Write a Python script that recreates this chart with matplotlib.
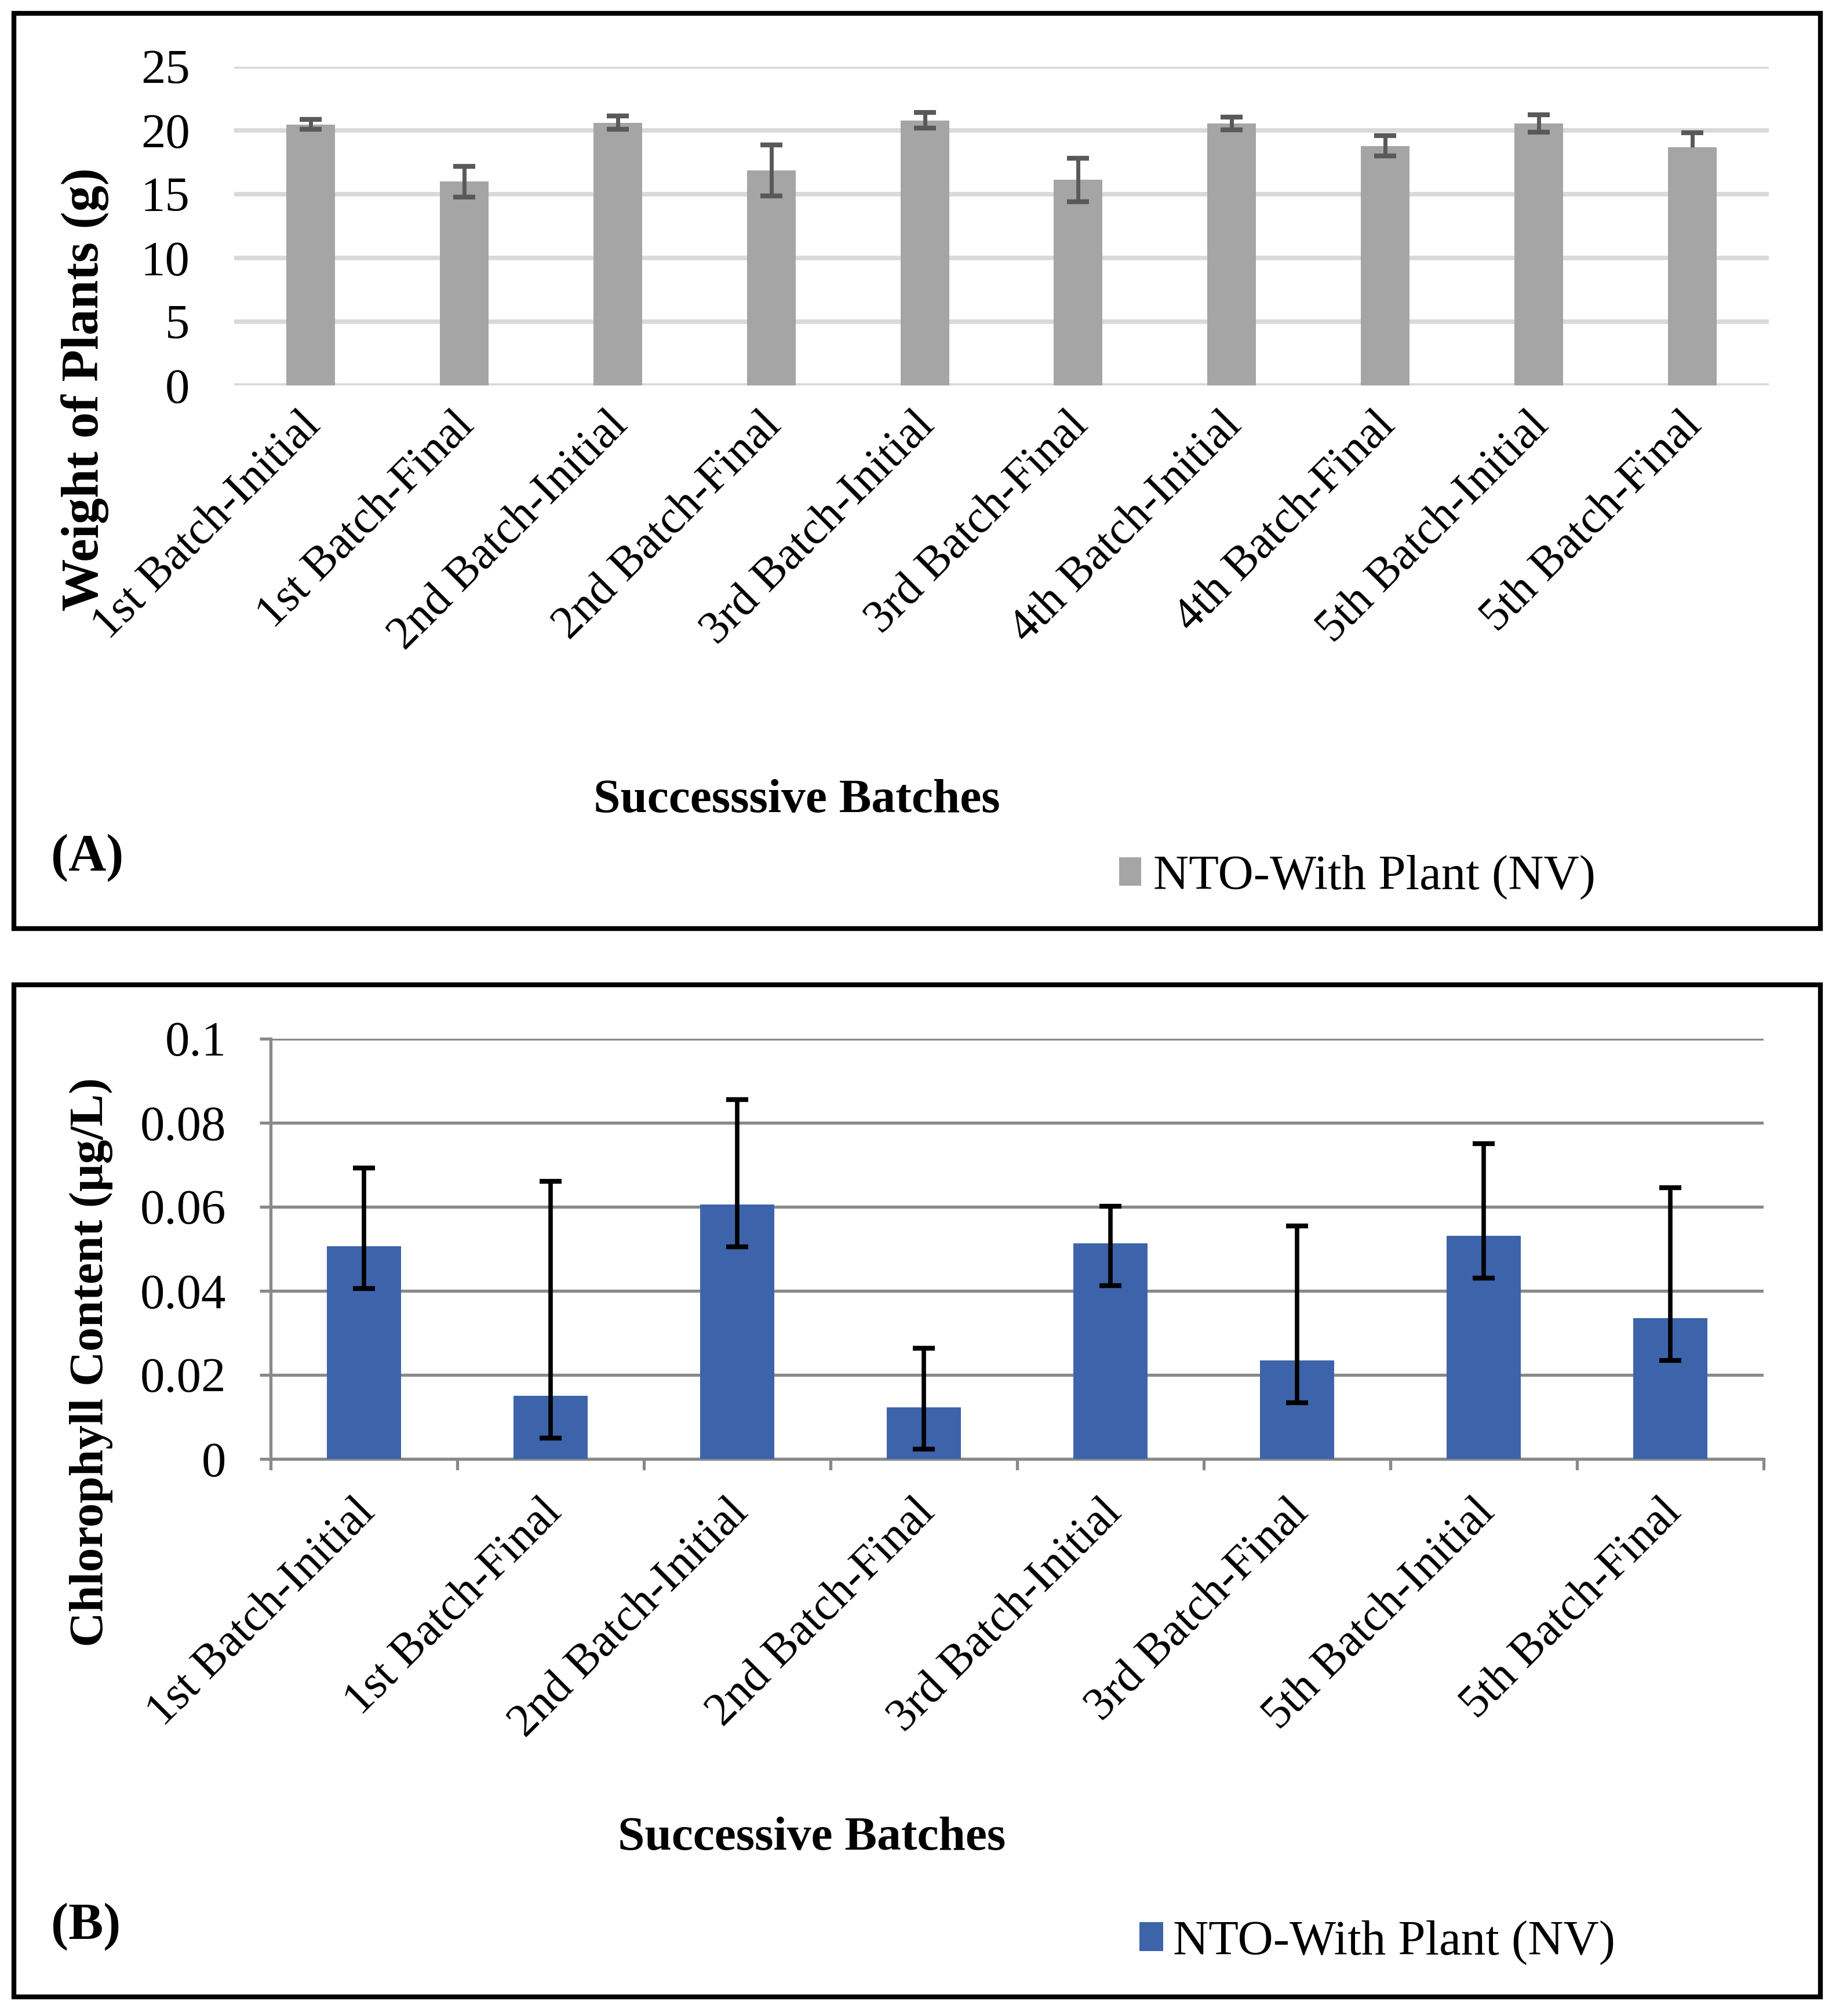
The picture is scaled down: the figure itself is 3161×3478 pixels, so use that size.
import numpy as np
import matplotlib
matplotlib.use("Agg")
import matplotlib.pyplot as plt
from matplotlib.patches import Rectangle
from matplotlib.transforms import ScaledTranslation

plt.rcParams['font.family'] = ['Liberation Serif', 'DejaVu Serif']

# (A) weight of plants
cats_a = ["1st Batch-Initial", "1st Batch-Final", "2nd Batch-Initial", "2nd Batch-Final",
          "3rd Batch-Initial", "3rd Batch-Final", "4th Batch-Initial", "4th Batch-Final",
          "5th Batch-Initial", "5th Batch-Final"]
weight = [20.47, 15.98, 20.61, 16.85, 20.78, 16.12, 20.55, 18.79, 20.55, 18.70]
weight_lo = [0.38, 1.20, 0.52, 2.00, 0.61, 1.70, 0.50, 0.80, 0.70, 0.0]
weight_hi = [0.38, 1.20, 0.52, 2.00, 0.61, 1.70, 0.50, 0.80, 0.70, 1.10]
yticks_a = [0, 5, 10, 15, 20, 25]

# (B) chlorophyll content
cats_b = ["1st Batch-Initial", "1st Batch-Final", "2nd Batch-Initial", "2nd Batch-Final",
          "3rd Batch-Initial", "3rd Batch-Final", "5th Batch-Initial", "5th Batch-Final"]
chl = [0.0506, 0.0150, 0.0605, 0.0123, 0.0513, 0.0234, 0.0531, 0.0335]
chl_lo = [0.0100, 0.0100, 0.0100, 0.0100, 0.0100, 0.0100, 0.0100, 0.0100]
chl_hi = [0.0187, 0.0511, 0.0250, 0.0140, 0.0089, 0.0320, 0.0220, 0.0310]
yticks_b = [0, 0.02, 0.04, 0.06, 0.08, 0.1]
ytick_labels_b = ["0", "0.02", "0.04", "0.06", "0.08", "0.1"]

legend_label = "NTO-With Plant (NV)"

FS = 61      # numbers, legend
FS_CAT = 58  # rotated category labels
W, H = 3161, 3478
fig = plt.figure(figsize=(W / 100, H / 100), dpi=100)


def fx(px):
    return px / W


def fy(py):
    return (H - py) / H


def draw_err(ax, x, y, lo, hi, half, color, lw, clw):
    x = np.asarray(x, float)
    y = np.asarray(y, float)
    lo = np.asarray(lo, float)
    hi = np.asarray(hi, float)
    ax.vlines(x, y - lo, y + hi, color=color, lw=lw, zorder=4)
    ax.hlines(y + hi, x - half, x + half, color=color, lw=clw, zorder=4)
    m = lo > 0
    ax.hlines((y - lo)[m], x[m] - half, x[m] + half, color=color, lw=clw, zorder=4)


def shift_labels(ax, dx_px, dy_px):
    for lab in ax.get_xticklabels():
        lab.set_transform(lab.get_transform() +
                          ScaledTranslation(dx_px / 100, dy_px / 100, fig.dpi_scale_trans))


# frames
for (x0, y0, x1, y1) in [(24, 23, 3141, 1602), (24, 1699, 3141, 3445)]:
    fig.add_artist(Rectangle((fx(x0), fy(y1)), fx(x1) - fx(x0), fy(y0) - fy(y1),
                             transform=fig.transFigure, fill=False, lw=6, ec='black'))

# ---------- panel A ----------
axa = fig.add_axes([fx(404), fy(665), fx(3052) - fx(404), fy(115) - fy(665)])
xa = np.arange(len(cats_a))
bars_a = axa.bar(xa, weight, width=0.317, color='#A5A5A5', zorder=3, label=legend_label)
draw_err(axa, xa, weight, weight_lo, weight_hi, 0.072, '#595959', 5, 6)
axa.set_xlim(-0.5, len(cats_a) - 0.5)
axa.set_ylim(0, 25)
axa.set_yticks(yticks_a)
axa.yaxis.grid(True, color='#D9D9D9', lw=5.5)
axa.set_axisbelow(True)
for s in axa.spines.values():
    s.set_visible(False)
axa.tick_params(axis='y', length=0, pad=55, labelsize=FS)
axa.set_xticks(xa)
axa.set_xticklabels(cats_a, rotation=45, ha='right', va='top', rotation_mode='anchor', fontsize=FS_CAT)
axa.tick_params(axis='x', length=0, pad=23)
shift_labels(axa, -20, 0)

fig.text(fx(146), fy(672), "Weight of Plants (g)", rotation=90, ha='center', va='center',
         fontsize=65, fontweight='bold')
fig.text(fx(1375), fy(1382), "Successsive Batches", ha='center', va='center',
         fontsize=60, fontweight='bold')
fig.text(fx(88), fy(1480), "(A)", ha='left', va='center', fontsize=65, fontweight='bold')
axa.legend(handles=[bars_a], labels=[legend_label], loc='center left',
           bbox_to_anchor=(fx(1931), fy(1513)), bbox_transform=fig.transFigure,
           frameon=False, fontsize=FS, handlelength=0.45, handleheight=0.5,
           handletextpad=0.25, borderpad=0, borderaxespad=0)

# ---------- panel B ----------
axb = fig.add_axes([fx(467), fy(2517), fx(3043) - fx(467), fy(1792) - fy(2517)])
xb = np.arange(len(cats_b))
bars_b = axb.bar(xb, chl, width=0.40, color='#3D64AB', zorder=3, label=legend_label)
draw_err(axb, xb, chl, chl_lo, chl_hi, 0.06, 'black', 5.5, 6)
axb.set_xlim(-0.5, len(cats_b) - 0.5)
axb.set_ylim(0, 0.1)
axb.set_yticks(yticks_b)
axb.set_yticklabels(ytick_labels_b)
axb.yaxis.grid(True, color='#898989', lw=3.8)
axb.set_axisbelow(True)
for k in ['top', 'right']:
    axb.spines[k].set_visible(False)
for k in ['left', 'bottom']:
    axb.spines[k].set_color('#898989')
    axb.spines[k].set_linewidth(3.8)
axb.tick_params(axis='y', length=14, width=3.8, color='#898989', direction='out',
                pad=41, labelsize=FS)
axb.set_xticks(xb)
axb.set_xticks(np.arange(len(cats_b) + 1) - 0.5, minor=True)
axb.tick_params(axis='x', which='minor', length=14, width=3.8, color='#898989', direction='out')
axb.set_xticklabels(cats_b, rotation=45, ha='right', va='top', rotation_mode='anchor', fontsize=FS_CAT)
axb.tick_params(axis='x', which='major', length=0, pad=40)
shift_labels(axb, -18, 0)

fig.text(fx(157), fy(2350), "Chlorophyll Content (µg/L)", rotation=90, ha='center', va='center',
         fontsize=60, fontweight='bold')
fig.text(fx(1401), fy(3171), "Successive Batches", ha='center', va='center',
         fontsize=60, fontweight='bold')
fig.text(fx(88), fy(3324), "(B)", ha='left', va='center', fontsize=65, fontweight='bold')
axb.legend(handles=[bars_b], labels=[legend_label], loc='center left',
           bbox_to_anchor=(fx(1966), fy(3351)), bbox_transform=fig.transFigure,
           frameon=False, fontsize=FS, handlelength=0.48, handleheight=0.53,
           handletextpad=0.2, borderpad=0, borderaxespad=0)

fig.savefig("out.png", dpi=100, facecolor='white')
